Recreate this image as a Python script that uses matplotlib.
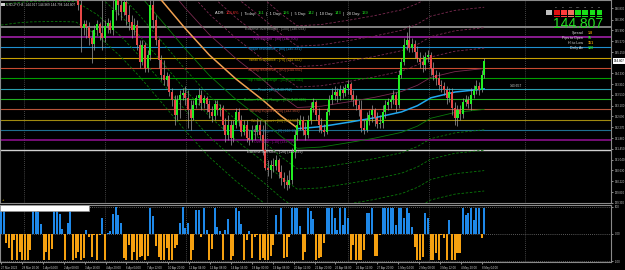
import numpy as np
import matplotlib
matplotlib.use("Agg")
import matplotlib.pyplot as plt
from matplotlib.patches import Rectangle
from matplotlib.offsetbox import TextArea, HPacker, AnchoredOffsetbox

plt.rcParams['font.family'] = ['Liberation Sans', 'DejaVu Sans']

# ---------------- data ----------------
first_bar = 29          # bars before this one sit above the visible price range
open0 = 147.90
closes = [146.95, 146.07, 146.22, 146.11, 145.69, 145.46, 145.99, 146.22, 145.88, 145.69,
          146.15, 146.26, 145.99, 146.76, 147.33, 146.95, 146.68, 147.06, 146.57, 146.30,
          145.99, 146.18, 145.42, 144.77, 145.42, 144.54, 145.04, 146.95, 146.37, 145.61,
          144.85, 144.27, 144.08, 144.24, 143.63, 143.32, 142.75, 143.32, 143.51, 143.59,
          143.40, 142.94, 142.63, 143.13, 143.40, 143.51, 143.20, 143.40, 143.17, 142.86,
          142.71, 143.17, 142.94, 143.01, 142.36, 141.98, 142.36, 141.87, 142.36, 142.86,
          142.55, 142.10, 142.36, 141.87, 141.79, 142.17, 142.10, 142.36, 141.98, 141.41,
          140.72, 140.65, 140.84, 140.80, 141.03, 140.57, 140.34, 140.19, 140.07, 140.26,
          141.33, 141.98, 142.36, 142.55, 142.17, 141.98, 142.55, 143.01, 143.24, 142.75,
          142.36, 142.17, 142.10, 142.86, 143.32, 143.51, 143.63, 143.47, 143.70, 143.59,
          143.78, 143.93, 143.51, 143.32, 143.13, 142.94, 142.25, 142.17, 142.55, 142.75,
          142.94, 142.63, 142.40, 142.44, 142.86, 143.13, 143.24, 143.32, 143.51, 143.13,
          144.27, 144.77, 145.42, 145.61, 145.31, 145.46, 145.15, 144.92, 144.77, 144.66,
          144.96, 145.04, 144.54, 144.27, 144.16, 143.89, 143.85, 143.70, 143.40, 143.63,
          143.01, 142.63, 142.94, 142.78, 143.24, 143.32, 143.17, 143.51, 143.70, 143.85,
          143.70, 144.27, 144.807]
highs = [148.28, 147.14, 146.37, 146.37, 146.30, 145.99, 146.18, 146.37, 146.30, 147.14,
         146.37, 146.45, 146.37, 147.14, 147.71, 147.71, 147.14, 147.33, 147.33, 146.95,
         146.57, 146.45, 146.37, 145.61, 145.61, 145.53, 145.23, 147.14, 147.14, 146.57,
         145.69, 145.04, 144.85, 144.39, 144.31, 143.78, 143.51, 143.51, 143.70, 143.78,
         143.85, 143.70, 143.32, 143.32, 143.51, 143.78, 143.70, 143.51, 143.47, 143.32,
         143.09, 143.32, 143.32, 143.17, 143.13, 142.63, 142.75, 142.55, 142.55, 143.01,
         143.01, 142.75, 142.55, 142.55, 142.17, 142.36, 142.36, 142.63, 142.55, 142.36,
         142.55, 141.03, 141.03, 141.10, 141.22, 141.10, 140.84, 140.57, 140.45, 140.65,
         141.49, 142.17, 142.63, 142.75, 142.71, 142.48, 142.75, 143.24, 143.40, 143.32,
         143.01, 142.63, 142.40, 143.01, 143.51, 143.78, 143.85, 143.78, 143.89, 143.85,
         143.93, 144.08, 144.01, 143.70, 143.51, 143.32, 143.32, 142.55, 142.86, 142.94,
         143.13, 143.01, 142.86, 142.75, 143.13, 143.32, 143.40, 143.51, 143.70, 143.63,
         144.46, 144.92, 145.69, 145.92, 146.18, 145.69, 145.61, 145.38, 145.15, 145.04,
         145.15, 145.23, 145.15, 144.77, 144.46, 144.39, 144.08, 144.01, 143.85, 143.78,
         143.78, 143.24, 143.13, 143.13, 143.40, 143.51, 143.47, 143.78, 143.89, 144.08,
         144.01, 144.46, 144.92]
lows = [146.76, 145.15, 145.80, 145.69, 145.42, 144.73, 145.23, 145.80, 145.61, 145.23,
        145.53, 145.88, 145.88, 145.80, 146.37, 146.57, 146.37, 146.57, 146.18, 145.99,
        145.69, 145.80, 145.23, 144.54, 144.66, 144.39, 144.39, 144.85, 146.07, 145.42,
        144.54, 144.08, 143.89, 143.85, 143.47, 143.09, 142.36, 142.55, 142.63, 143.32,
        143.13, 142.25, 142.17, 142.55, 143.01, 143.13, 142.94, 143.01, 142.86, 142.63,
        142.48, 142.55, 142.75, 142.71, 142.17, 141.71, 141.79, 141.60, 141.71, 142.25,
        142.33, 141.94, 141.98, 141.71, 141.60, 141.71, 141.79, 141.98, 141.79, 141.22,
        140.65, 140.42, 140.34, 140.57, 140.65, 140.34, 140.07, 139.96, 139.88, 139.96,
        140.11, 141.10, 141.79, 142.17, 141.98, 141.79, 141.87, 142.40, 142.86, 142.55,
        142.10, 142.06, 141.94, 142.02, 142.75, 143.17, 143.32, 143.24, 143.32, 143.40,
        143.47, 143.55, 143.32, 143.09, 142.94, 142.71, 142.10, 142.02, 142.10, 142.36,
        142.48, 142.33, 142.25, 142.25, 142.25, 142.63, 142.94, 143.01, 143.17, 142.86,
        143.01, 144.16, 144.66, 145.23, 145.15, 145.15, 144.92, 144.77, 144.54, 144.39,
        144.46, 144.77, 144.27, 144.08, 143.89, 143.70, 143.63, 143.51, 143.17, 143.24,
        142.75, 142.36, 142.33, 142.55, 142.63, 143.09, 143.01, 142.94, 143.40, 143.55,
        143.51, 143.63, 144.16]

# oscillator histogram (one value per bar, from bar 0)
hist = [90, 96, -35, -50, -97, -22, -97, -66, -97, -97,
        -97, -60, 96, 96, 80, 37, -97, -66, -97, -56,
        96, 90, 74, 17, -97, 40, 96, -97, -90, -66,
        -97, -90, 15, -10, -85, -5, -97, -5, 60, -97,
        5, 11, 74, 99, 71, 40, -90, -97, -40, -97,
        -66, -97, -85, -80, -97, -80, 96, 67, -45, -85,
        -97, -97, -50, -97, -97, -50, -40, 40, 99, 21,
        40, -97, -60, 90, 90, -10, 96, 15, -97, -56,
        96, 27, 11, -97, 15, 56, -97, -80, 96, 86,
        36, -97, -22, 11, -90, -10, -5, -97, -90, -97,
        -97, -80, -40, 69, 6, 96, -90, -85, -10, 96,
        96, 96, 31, -97, -66, 96, 86, 56, -97, -90,
        -85, -35, 96, 96, 96, 60, 15, 96, 33, 96,
        60, -97, -41, -97, -97, -97, -60, 78, 78, 96,
        -80, -80, -2, 96, 96, 96, 96, 96, 34, 96,
        96, 59, 96, 78, 27, -48, -97, -97, -85, 78,
        59, -97, -97, -72, -97, -5, -16, -97, 53, -97,
        -97, -72, -72, 96, 70, 78, 96, 53, 96, 96,
        -16, 96]

# moving-average centre line of the band indicator
ma_down_bars = [0, 6, 11, 20, 28, 36, 45, 52, 60, 69, 78, 88, 98, 105, 111]
ma_down = [150.08, 150.16, 150.20, 150.22, 150.20, 149.70, 148.86, 148.10, 147.14,
           146.05, 145.04, 144.12, 143.32, 142.70, 142.25]
ma_up_bars = [111, 120, 131, 140, 150, 156, 161, 170, 181]
ma_up = [142.22, 142.30, 142.48, 142.64, 142.86, 143.10, 143.40, 143.62, 143.74]
band_step = 0.78

level_names = ['Extreme overbought', 'Overbought', 'Major resistance', 'Weak resistance',
               'Strong resistance', 'Top Trading Range', 'Pivot', 'Bottom Trading Range',
               'Strong support', 'Weak Support', 'Major Support', 'Oversold', 'Extreme oversold']
level_codes = [100, 90, 80, 70, 60, 50, 40, 30, 20, 10, 0, -10, -20]
level_prices = [146.094, 145.705, 145.331, 144.922, 144.551, 144.141, 143.752,
                143.369, 142.969, 142.566, 142.187, 141.795, 141.399]
level_colors = ['#8c8c8c', '#a020a8', '#1e90d0', '#c8a000', '#c84a30', '#00a000', '#2a9fb0',
                '#22b022', '#b8553a', '#a08a10', '#1f6f90', '#8a108a', '#d0d0d0']
level_widths = [1.3, 1.2, 0.8, 0.8, 0.8, 0.8, 0.8, 0.8, 0.8, 0.8, 0.8, 1.2, 1.0]

date_labels = ['27 Mar 2023', '28 Mar 20:00', '1 Apr 04:00', '2 Apr 08:00', '3 Apr 16:00',
               '4 Apr 20:00', '6 Apr 04:00', '7 Apr 12:00', '10 Apr 20:00', '12 Apr 04:00',
               '13 Apr 08:00', '14 Apr 16:00', '18 Apr 00:00', '19 Apr 08:00', '20 Apr 12:00',
               '21 Apr 20:00', '25 Apr 04:00', '26 Apr 12:00', '27 Apr 20:00', '1 May 04:00',
               '2 May 08:00', '3 May 12:00', '4 May 20:00', '8 May 04:00']
price_ticks = [139.390, 139.800, 140.220, 140.630, 141.040, 141.450, 141.860, 142.270,
               142.690, 143.100, 143.510, 143.910, 144.330, 145.150, 145.570, 145.990,
               146.390, 146.830]
last_price = 144.807
ohlc_header = 'USDJPY,H4  144.917 144.969 144.794 144.807'

adr_pct = '108.6%'
adr_names = ['Today', '1 Day', '5 Day', '10 Day', '20 Day']
adr_vals = [151, 126, 142, 143, 139]

info_names = ['Spread', 'Pips to Open', 'Hi to Low', 'Daily Av']
info_vals = ['1.8', '95', '151', '138']
info_colors = ['#e0a000', '#20e020', '#e0a000', '#20e020']

tf_names = ['M1', 'M5', 'M15', 'M30', 'H1', 'H4', 'D1']
tf_colors = ['#e01010', '#ff3a3a', '#f07060', '#18e018', '#18e018', '#18e018', '#18e018']

grid_bars = [8.6, 39.0, 69.3, 99.6, 130.0, 160.3, 196.3]
other_label = '143.657'

# ---------------- figure ----------------
W, H = 625, 270
def fx(px):
    return px / W
def fy(py):
    return 1 - py / H

fig = plt.figure(figsize=(6.25, 2.7), dpi=100, facecolor='black')
ax = fig.add_axes([0, fy(203), fx(611), fy(0) - fy(203)])
ax2 = fig.add_axes([0, fy(262), fx(611), fy(205) - fy(262)])
for a in (ax, ax2):
    a.set_facecolor('black')
    for s in a.spines.values():
        s.set_color('#8a8a8a')
        s.set_linewidth(0.8)
    a.set_xlim(-0.375, 228.5)
    for g in grid_bars:
        a.axvline(g, color='#5a5a5a', lw=0.6, ls=(0, (1, 1.5)), zorder=0)

ax.set_ylim(139.382, 147.137)

# key levels
for name, code, p, col, lw in zip(level_names, level_codes, level_prices, level_colors, level_widths):
    ax.axhline(p, color=col, lw=lw, zorder=1)
    ax.text(102.6, p - 0.07, f'{name} - [{code}] ({p:.3f})', color=col, fontsize=2.6,
            ha='center', va='center', zorder=6)

# bands
bx = np.array(ma_down_bars + ma_up_bars[1:])
by = np.array(ma_down + ma_up[1:])
for k in range(1, 6):
    ls = '-' if k == 1 else (0, (3, 2))
    ax.plot(bx, by + k * band_step, color='#7a2a50', lw=0.6, ls=ls, zorder=2)
    ax.plot(bx, by - k * band_step, color='#0a7a0a', lw=0.6, ls=ls, zorder=2)
ax.plot(ma_down_bars, ma_down, color='#f0a050', lw=1.1, zorder=3)
ax.plot(ma_up_bars, ma_up, color='#20a8f0', lw=1.1, zorder=3)

# candles
c = np.array(closes)
o = np.array([open0] + closes[:-1])
hi = np.maximum(np.array(highs), np.maximum(o, c))
lo = np.minimum(np.array(lows), np.minimum(o, c))
x = np.arange(first_bar, first_bar + len(c))
ax.vlines(x, lo, hi, color='#a0a0a0', lw=0.5, zorder=4)
body = np.maximum(np.abs(c - o), 0.02)
ax.bar(x, body, bottom=np.minimum(o, c), width=0.75,
       color=np.where(c >= o, '#22ee22', '#e84848'), lw=0, zorder=5)

# price axis
ax.yaxis.tick_right()
ax.set_yticks(price_ticks)
ax.set_yticklabels([f'{v:.3f}' for v in price_ticks])
ax.tick_params(axis='y', labelsize=2.0, colors='#c8c8c8', length=1.5, pad=1, width=0.5)
ax.tick_params(axis='x', bottom=False, labelbottom=False)
ax.text(1.004, last_price, f'{last_price:.3f}', transform=ax.get_yaxis_transform(),
        fontsize=2.2, color='black', va='center', ha='left',
        bbox=dict(facecolor='white', edgecolor='none', pad=0.6), clip_on=False)

# oscillator panel
hv = np.array(hist)
ax2.bar(np.arange(len(hv)), hv, width=0.75,
        color=np.where(hv > 0, '#1e88e8', '#f5a010'), lw=0, zorder=3)
for lvl in (100, 0, -100):
    ax2.axhline(lvl, color='#777777', lw=0.6, ls=(0, (1, 1.5)), zorder=1)
ax2.set_ylim(-103.7, 107.4)
ax2.yaxis.tick_right()
ax2.set_yticks([100, 0, -100])
ax2.set_yticklabels(['100', '0.00', '-100'])
ax2.tick_params(axis='y', labelsize=2.0, colors='#c8c8c8', length=1.5, pad=1, width=0.5)
ax2.set_xticks(np.arange(len(date_labels)) * 7.83)
ax2.set_xticklabels(date_labels, ha='left')
ax2.tick_params(axis='x', labelsize=2.1, colors='#c8c8c8', length=1.5, pad=1.5, width=0.5)
fig.add_artist(Rectangle((0, fy(211)), fx(89), 6 / H, transform=fig.transFigure,
                         facecolor='white', edgecolor='#909090', lw=0.5))

# texts
fig.add_artist(Rectangle((fx(1.5), fy(6)), fx(3), 3 / H, transform=fig.transFigure,
                         facecolor='#d0d0d0', edgecolor='none'))
fig.text(fx(6), fy(4.5), ohlc_header, fontsize=2.3, color='#d0d0d0', va='center')
fig.text(fx(3), fy(200), '+', fontsize=3, color='#e0c000', va='center', ha='center')
fig.text(fx(510), fy(86), other_label, fontsize=2.4, color='#d0d0d0', va='center')


def colored_line(parts, px, py, size):
    boxes = [TextArea(t, textprops=dict(color=col, fontsize=size)) for t, col in parts]
    pack = HPacker(children=boxes, align='baseline', pad=0, sep=0)
    box = AnchoredOffsetbox(loc='center left', child=pack, pad=0, borderpad=0,
                            frameon=False, bbox_to_anchor=(fx(px), fy(py)),
                            bbox_transform=fig.transFigure)
    fig.add_artist(box)


parts = [('ADR: ', '#e0e0e0'), (adr_pct, '#ff3030')]
for n, v in zip(adr_names, adr_vals):
    parts += [(f'  |  {n}: ', '#e0e0e0'), (str(v), '#20e020')]
colored_line(parts, 215, 13.5, 2.9)

# timeframe strength grid
for i, (tf, col) in enumerate(zip(tf_names, tf_colors)):
    x0 = 554 + 7.1 * i
    fig.text(fx(x0 + 2.7), fy(7), tf, fontsize=1.6, color='#b0b0b0', ha='center', va='center')
    for r in range(4):
        fig.add_artist(Rectangle((fx(x0), fy(10.2 + 1.9 * r + 1.4)), fx(5.6), 1.4 / H,
                                 transform=fig.transFigure, facecolor=col, edgecolor='none'))
fig.add_artist(Rectangle((fx(546), fy(15)), fx(6), 5 / H, transform=fig.transFigure,
                         facecolor='#c0c0c0', edgecolor='none'))

fig.text(fx(603), fy(23.5), f'{last_price:.3f}', fontsize=10, color='#22e022',
         ha='right', va='center')
for j, (n, v, col) in enumerate(zip(info_names, info_vals, info_colors)):
    fig.text(fx(583), fy(33 + 5 * j), n, fontsize=2.6, color='#e0e0e0', ha='right', va='center')
    fig.text(fx(588), fy(33 + 5 * j), v, fontsize=2.6, color=col, ha='left', va='center',
             fontweight='bold')

fig.savefig('out.png', dpi=100, facecolor='black')
